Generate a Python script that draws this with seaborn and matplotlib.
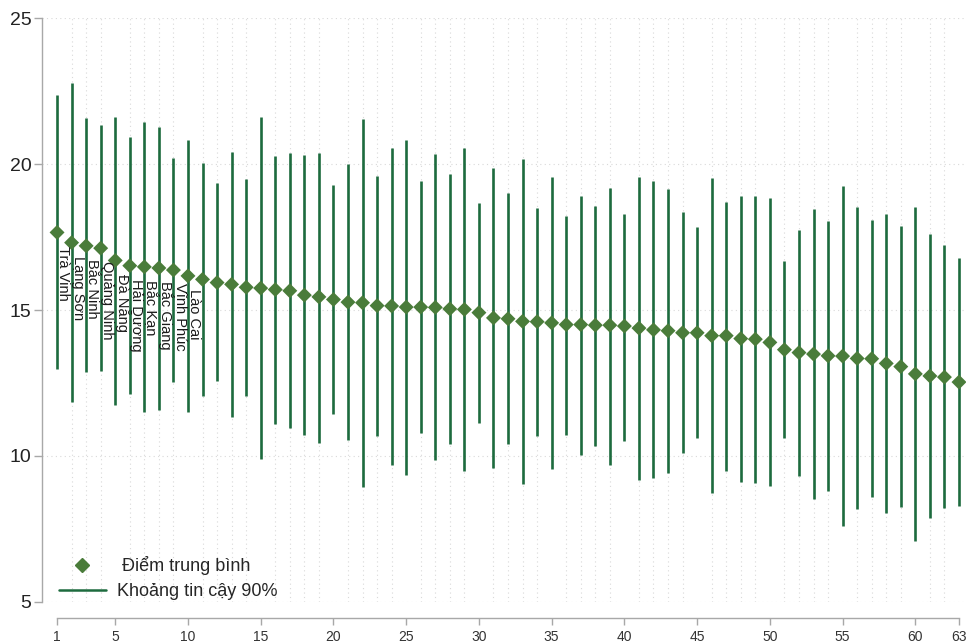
import numpy as np
import pandas as pd
import matplotlib
matplotlib.use("Agg")
import matplotlib.pyplot as plt
import seaborn as sns
from matplotlib.lines import Line2D

# Data (rank 1..63)
means = [17.66, 17.31, 17.20, 17.12, 16.70, 16.52, 16.48, 16.44, 16.37, 16.17,
         16.05, 15.94, 15.88, 15.78, 15.75, 15.70, 15.66, 15.51, 15.45, 15.36,
         15.27, 15.25, 15.15, 15.14, 15.10, 15.10, 15.09, 15.04, 15.02, 14.91,
         14.73, 14.70, 14.61, 14.60, 14.56, 14.50, 14.50, 14.48, 14.48, 14.45,
         14.38, 14.32, 14.29, 14.22, 14.22, 14.12, 14.12, 14.02, 14.00, 13.89,
         13.64, 13.54, 13.49, 13.43, 13.42, 13.34, 13.33, 13.17, 13.06, 12.81,
         12.74, 12.70, 12.53]
upper = [22.37, 22.77, 21.57, 21.35, 21.61, 20.94, 21.46, 21.28, 20.20, 20.84,
         20.05, 19.34, 20.43, 19.49, 21.61, 20.28, 20.37, 20.30, 20.39, 19.28,
         20.01, 21.55, 19.59, 20.55, 20.84, 19.41, 20.34, 19.67, 20.55, 18.67,
         19.87, 19.01, 20.17, 18.49, 19.56, 18.21, 18.91, 18.58, 19.18, 18.29,
         19.55, 19.41, 19.16, 18.36, 17.85, 19.51, 18.71, 18.91, 18.92, 18.84,
         16.68, 17.75, 18.46, 18.06, 19.26, 18.53, 18.10, 18.29, 17.89, 18.53,
         17.62, 17.24, 16.77]
lower = [12.98, 11.86, 12.86, 12.90, 11.75, 12.11, 11.50, 11.56, 12.52, 11.49,
         12.05, 12.58, 11.32, 12.05, 9.89, 11.10, 10.97, 10.71, 10.45, 11.42,
         10.53, 8.93, 10.69, 9.70, 9.35, 10.77, 9.85, 10.41, 9.49, 11.14,
         9.57, 10.40, 9.05, 10.69, 9.54, 10.73, 10.02, 10.33, 9.69, 10.52,
         9.17, 9.25, 9.42, 10.11, 10.60, 8.72, 9.49, 9.10, 9.06, 8.97,
         10.62, 9.31, 8.51, 8.81, 7.60, 8.19, 8.58, 8.05, 8.25, 7.08,
         7.88, 8.20, 8.28]
top_provinces = ["Trà Vinh", "Lạng Sơn", "Bắc Ninh", "Quảng Ninh", "Đà Nẵng",
                 "Hải Dương", "Bắc Kạn", "Bắc Giang", "Vĩnh Phúc", "Lào Cai"]
x_ticks = [1, 5, 10, 15, 20, 25, 30, 35, 40, 45, 50, 55, 60, 63]
y_ticks = [5, 10, 15, 20, 25]

df = pd.DataFrame({"rank": np.arange(1, len(means) + 1),
                   "mean": means, "upper": upper, "lower": lower})

MEAN_COLOR = "#4a7c3a"
CI_COLOR = "#1d6b3e"
AXIS_GRAY = "#a8a8a8"

sns.set_theme(style="white")
plt.rcParams["font.family"] = ["Liberation Sans Narrow", "Liberation Sans", "DejaVu Sans"]

fig = plt.figure(figsize=(9.68, 6.43), dpi=100)
ax = fig.add_axes([0.0439, 0.0642, 0.9543, 0.9073])

# confidence intervals
ax.vlines(df["rank"], df["lower"], df["upper"], color=CI_COLOR, lw=1.9, zorder=2)
# means
sns.scatterplot(data=df, x="rank", y="mean", marker="D", s=58, color=MEAN_COLOR,
                edgecolor="none", linewidth=0, ax=ax, zorder=3, legend=False)

# province names under the first ten points
for i, name in enumerate(top_provinces):
    ax.text(df["rank"][i] - 0.05, df["mean"][i] - 0.45, name, rotation=-90,
            ha="left", va="top", fontsize=10.5, color="#1a1a1a", zorder=4)

ax.set_xlim(0, 63.5)
ax.set_ylim(5, 25)
ax.set_xticks(x_ticks)
ax.set_xticks(range(1, 64), minor=True)
ax.set_yticks(y_ticks)
ax.set_xlabel("")
ax.set_ylabel("")

ax.grid(True, which="minor", axis="x", linestyle=(0, (1, 3)), color="#d9d9d9", lw=0.8)
ax.grid(True, which="major", axis="y", linestyle=(0, (1, 3)), color="#d9d9d9", lw=0.8)
ax.set_axisbelow(True)

for side in ["top", "right"]:
    ax.spines[side].set_visible(False)
ax.spines["left"].set_color(AXIS_GRAY)
ax.spines["left"].set_linewidth(1.0)
ax.spines["left"].set_bounds(5, 25)
ax.spines["bottom"].set_color(AXIS_GRAY)
ax.spines["bottom"].set_linewidth(1.0)
ax.spines["bottom"].set_bounds(1, 63)
ax.spines["bottom"].set_position(("outward", 11.5))

ax.tick_params(axis="y", which="major", length=6, width=1.0, color=AXIS_GRAY,
               labelsize=14, labelcolor="#222222", pad=2, left=True)
ax.tick_params(axis="x", which="major", length=5, width=1.0, color=AXIS_GRAY,
               labelsize=10, labelcolor="#333333", pad=4, bottom=True)
ax.tick_params(axis="x", which="minor", length=0)

handles = [
    Line2D([], [], marker="D", linestyle="none", color=MEAN_COLOR, markersize=7),
    Line2D([], [], color=CI_COLOR, lw=1.8),
]
ax.legend(handles, [" Điểm trung bình", "Khoảng tin cậy 90%"], loc="lower left",
          bbox_to_anchor=(0.0, -0.025), frameon=False, fontsize=13,
          handlelength=2.6, handletextpad=0.6, labelspacing=0.45)

fig.savefig("out.png", dpi=100)
